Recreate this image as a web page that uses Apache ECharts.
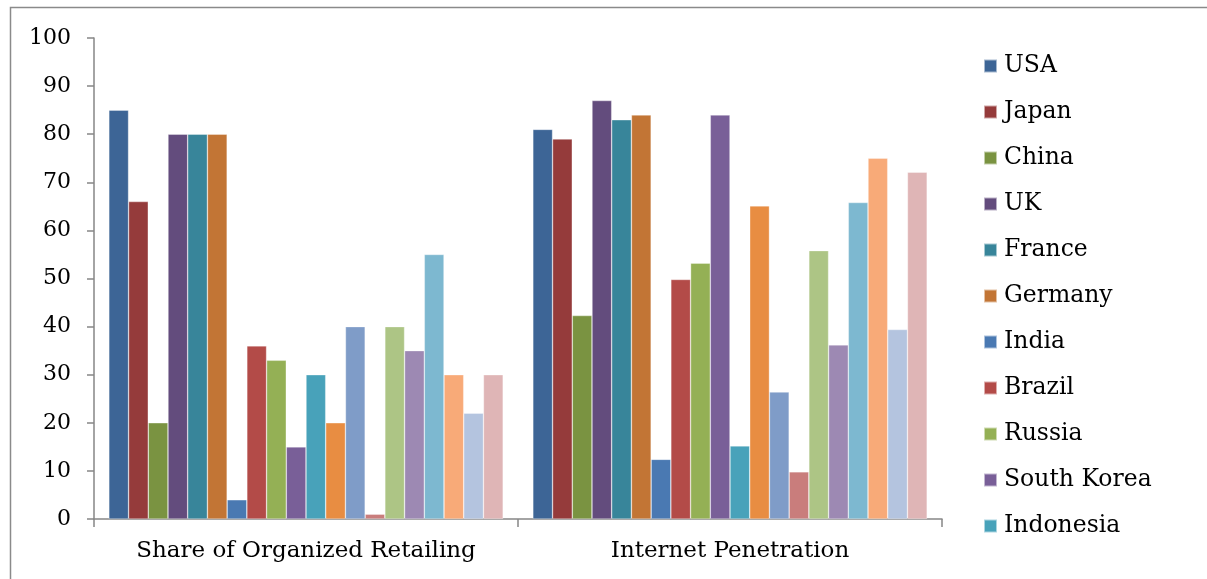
<!DOCTYPE html>
<html>
<head>
<meta charset="utf-8">
<script src="https://cdn.jsdelivr.net/npm/echarts@6/dist/echarts.min.js"></script>
<style>
  html, body { margin: 0; padding: 0; background: #fff; }
  #chart { width: 1207px; height: 579px; }
</style>
</head>
<body>
<div id="chart"></div>
<script>
// Two indicators, compared across countries
const categories = ['Share of Organized Retailing', 'Internet Penetration'];

// Series names (only the first eleven are listed in the legend)
const seriesNames = [
  'USA', 'Japan', 'China', 'UK', 'France', 'Germany', 'India', 'Brazil',
  'Russia', 'South Korea', 'Indonesia',
  'Series 12', 'Series 13', 'Series 14', 'Series 15', 'Series 16',
  'Series 17', 'Series 18', 'Series 19', 'Series 20'
];
const legendNames = seriesNames.slice(0, 11);

// Values per series: [organized retailing share, internet penetration]
const organizedRetail = [85, 66, 20, 80, 80, 80, 4, 36, 33, 15, 30, 20, 40, 1, 40, 35, 55, 30, 22, 30];
const internetPen     = [81, 79, 42.3, 87, 83, 84, 12.4, 49.8, 53.2, 84, 15.2, 65.1, 26.4, 9.8, 55.8, 36.2, 65.8, 75, 39.4, 72.1];

const palette = [
  '#3D6596', '#953B3B', '#7A9341', '#634C7D', '#38859A', '#C27535',
  '#4A79B2', '#B34B48', '#94B055', '#795F98', '#48A2BA', '#E88D42',
  '#7F9CC8', '#C97D7C', '#ADC585', '#9D89B3', '#7DB8D0', '#F8AA78',
  '#B4C4DF', '#DFB5B6'
];

const yTicks = { min: 0, max: 100, interval: 10 };

const FONT = '"DejaVu Serif", "Liberation Serif", serif';
const AXIS_GRAY = '#868686';

const series = seriesNames.map((name, i) => ({
  name: name,
  type: 'bar',
  data: [organizedRetail[i], internetPen[i]],
  barGap: 0,
  barCategoryGap: '7%',
  itemStyle: {
    color: palette[i],
    borderColor: 'rgba(255,255,255,0.55)',
    borderWidth: 0.6
  }
}));

const chart = echarts.init(document.getElementById('chart'), null, { renderer: 'canvas' });
chart.setOption({
  animation: false,
  color: palette,
  backgroundColor: '#ffffff',
  graphic: [{
    type: 'rect',
    shape: { x: 10.5, y: 7.5, width: 1400, height: 800 },
    style: { fill: 'none', stroke: '#8a8a8a', lineWidth: 1.5 },
    silent: true,
    z: -1
  }],
  grid: { left: 94, right: 265, top: 38, bottom: 60, containLabel: false },
  legend: {
    data: legendNames,
    orient: 'vertical',
    left: 978,
    top: 49,
    height: 1000,
    itemWidth: 13,
    itemHeight: 13,
    itemGap: 22,
    icon: 'rect',
    textStyle: {
      fontFamily: FONT,
      fontSize: 23.5,
      lineHeight: 24,
      color: '#000',
      padding: [0, 0, 0, 2]
    }
  },
  xAxis: {
    type: 'category',
    data: categories,
    axisLine: { lineStyle: { color: AXIS_GRAY, width: 1.5 } },
    axisTick: { show: true, interval: 0, length: 8, lineStyle: { color: AXIS_GRAY, width: 1.5 } },
    axisLabel: { interval: 0, hideOverlap: false, fontFamily: FONT, fontSize: 23, color: '#000', margin: 21 }
  },
  yAxis: {
    type: 'value',
    min: yTicks.min,
    max: yTicks.max,
    interval: yTicks.interval,
    axisLine: { show: true, lineStyle: { color: AXIS_GRAY, width: 1.5 } },
    axisTick: { show: true, length: 7, lineStyle: { color: AXIS_GRAY, width: 1.5 } },
    splitLine: { show: false },
    axisLabel: { fontFamily: FONT, fontSize: 22, color: '#000', margin: 23 }
  },
  series: series
});
</script>
</body>
</html>
